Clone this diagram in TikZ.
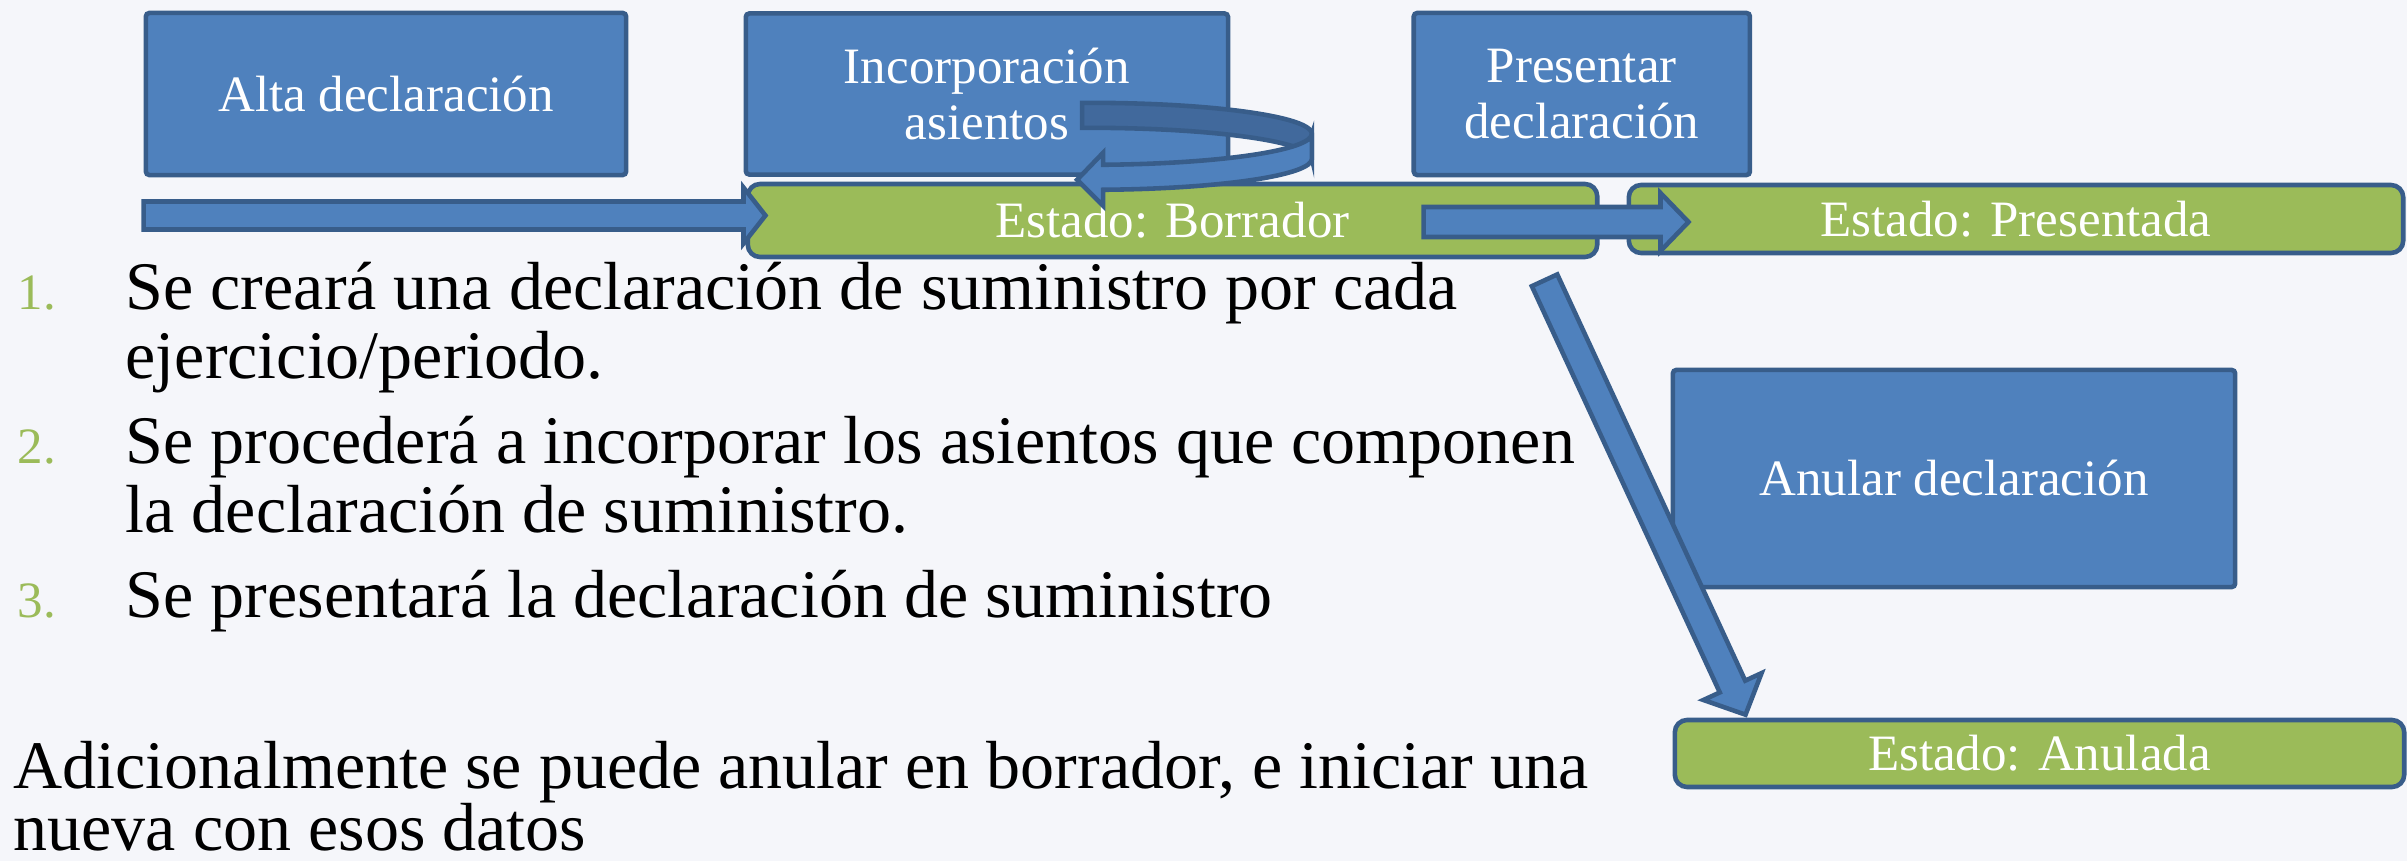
\documentclass[tikz,border=0pt]{standalone}
\usepackage{fontspec}
\setmainfont{Liberation Serif}
\usetikzlibrary{calc, positioning}

\definecolor{boxblue}{HTML}{4F81BD}
\definecolor{edgeblue}{HTML}{385D8A}
\definecolor{ribbonblue}{HTML}{41699C}
\definecolor{stategreen}{HTML}{9BBB59}
\definecolor{slidebg}{HTML}{F5F6FA}

\tikzset{
  action/.style={draw=edgeblue, fill=boxblue, line width=1.3pt, rounded corners=1pt,
    text=white, align=center, inner sep=0pt, font=\fontsize{14.5}{15.9}\selectfont},
  state/.style={draw=edgeblue, fill=stategreen, line width=1.3pt, rounded corners=3.5pt,
    text=white, inner sep=0pt, font=\fontsize{14.5}{15.9}\selectfont},
  blockarrow/.style={draw=edgeblue, fill=boxblue, line width=1.3pt, line join=miter},
  ribbonback/.style={draw=edgeblue, fill=ribbonblue, line width=1.3pt},
  ribbonfront/.style={draw=edgeblue, fill=boxblue, line width=1.3pt, line join=miter},
  textline/.style={anchor=base west, inner sep=0pt, font=\fontsize{19.35}{19.6}\selectfont},
  itemnum/.style={anchor=base west, inner sep=0pt, text=stategreen, font=\fontsize{14.5}{14.5}\selectfont}
}

% tail, tip, half body width, half head width, head length
\newcommand{\blockarrow}[5]{%
  \coordinate (bah) at ($(#2)!#5!(#1)$);
  \filldraw[blockarrow] ($(#1)!#3!90:(#2)$) -- ($(bah)!#3!-90:(#1)$) -- ($(bah)!#4!-90:(#1)$)
    -- (#2) -- ($(bah)!#4!90:(#1)$) -- ($(bah)!#3!90:(#1)$) -- ($(#1)!#3!-90:(#2)$) -- cycle;
}

\begin{document}
\begin{tikzpicture}[x=0.01cm, y=-0.01cm]
\fill[slidebg] (0,0) rectangle (2407,861);
\useasboundingbox (0,0) rectangle (2407,861);

% actions
\node[action, minimum width=4.8cm, minimum height=1.62cm] (alta) at (386,94) {Alta declaración};
\node[action, minimum width=4.82cm, minimum height=1.61cm, right=1.15cm of alta] (incorp) {Incorporación\\asientos};
\node[action, minimum width=3.36cm, minimum height=1.62cm, right=1.81cm of incorp] (presentar) {Presentar\\declaración};
\node[action, minimum width=5.62cm, minimum height=2.17cm] (anular) at (1954,478.5) {Anular declaración};

% states
\node[state, minimum width=8.49cm, minimum height=0.73cm] (borrador) at (1172.5,220.5) {Estado: Borrador};
\node[state, minimum width=7.74cm, minimum height=0.68cm] (presentada) at (2016,219) {Estado: Presentada};
\node[state, minimum width=7.29cm, minimum height=0.67cm] (anulada) at (2039.5,753.5) {Estado: Anulada};

% connectors
\coordinate (tip1) at ($(borrador.west)+(20,-5)$);
\coordinate (tail1) at (alta.west |- tip1);
\blockarrow{tail1}{tip1}{0.14cm}{0.28cm}{0.22cm}

\coordinate (tail2) at ($(borrador.east)+(-176,1.5)$);
\coordinate (tip2) at ($(presentada.west)+(62,3)$);
\blockarrow{tail2}{tip2}{0.15cm}{0.29cm}{0.28cm}

\coordinate (tail3) at ($(borrador.south east)+(-55,21)$);
\coordinate (tip3) at ($(anulada.north west)+(73,-3)$);
\blockarrow{tail3}{tip3}{0.14cm}{0.32cm}{0.31cm}

% loop on borrador
\coordinate (loopc) at ($(incorp.south)+(103,-43)$);
\filldraw[ribbonback] (loopc) ++(-92:222 and 31) arc[start angle=-92, end angle=0, x radius=222, y radius=31]
  -- ++(0,25) arc[start angle=0, end angle=-92, x radius=222, y radius=31] -- cycle;
\filldraw[ribbonfront] (loopc) ++(0:222 and 31) arc[start angle=0, end angle=86.6, x radius=222, y radius=31]
  -- ++(0,-12) -- ++(-26,27) -- ++(26,26) -- ++(0,-16)
  arc[start angle=86.6, end angle=0, x radius=222, y radius=31] -- cycle;

% list
\node[itemnum] (n1) at (17,310) {1.};
\node[textline] (l1a) at (125,310) {Se creará una declaración de suministro por cada};
\node[textline] (l1b) at (125,379) {ejercicio/periodo.};
\node[itemnum] (n2) at (17,463) {2.};
\node[textline] (l2a) at (125,463) {Se procederá a incorporar los asientos que componen};
\node[textline] (l2b) at (125,532) {la declaración de suministro.};
\node[itemnum] (n3) at (17,617) {3.};
\node[textline] (l3a) at (125,617) {Se presentará la declaración de suministro};

\node[textline] (extra1) at (13,788) {Adicionalmente se puede anular en borrador, e iniciar una};
\node[textline] (extra2) at (13,850) {nueva con esos datos};
\end{tikzpicture}
\end{document}
